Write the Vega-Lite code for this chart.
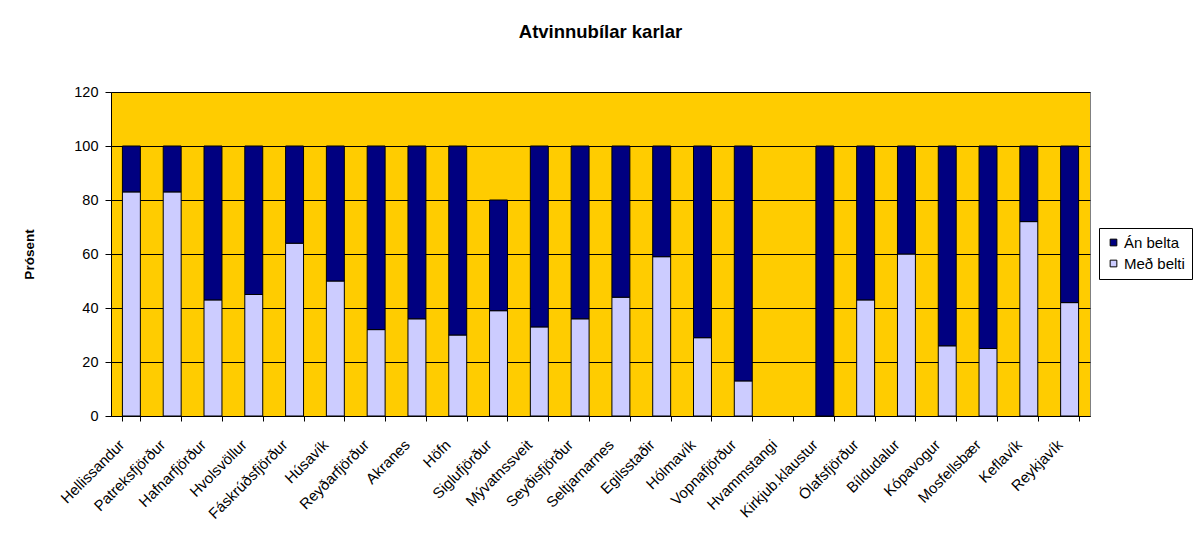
{
  "$schema": "https://vega.github.io/schema/vega-lite/v6.json",
  "width": 979,
  "height": 324,
  "autosize": {"type": "none"},
  "padding": {"left": 111, "top": 92, "right": 103, "bottom": 121},
  "background": "white",
  "title": {"text": "Atvinnubílar karlar", "anchor": "middle", "frame": "group", "offset": 28, "baseline": "alphabetic", "font": "Liberation Sans", "fontSize": 18.5, "fontWeight": "bold", "color": "black"},
  "config": {
    "font": "Liberation Sans",
    "view": {"fill": "#FFCC00", "stroke": "#808080", "strokeWidth": 1},
    "axis": {"labelFont": "Liberation Sans", "labelColor": "black", "domainColor": "black", "tickColor": "black", "titleFont": "Liberation Sans", "titleColor": "black"}
  },
  "data": {"values": [
    {"town": "Hellissandur", "type": "Með belti", "pct": 83}, {"town": "Hellissandur", "type": "Án belta", "pct": 17},
    {"town": "Patreksfjörður", "type": "Með belti", "pct": 83}, {"town": "Patreksfjörður", "type": "Án belta", "pct": 17},
    {"town": "Hafnarfjörður", "type": "Með belti", "pct": 43}, {"town": "Hafnarfjörður", "type": "Án belta", "pct": 57},
    {"town": "Hvolsvöllur", "type": "Með belti", "pct": 45}, {"town": "Hvolsvöllur", "type": "Án belta", "pct": 55},
    {"town": "Fáskrúðsfjörður", "type": "Með belti", "pct": 64}, {"town": "Fáskrúðsfjörður", "type": "Án belta", "pct": 36},
    {"town": "Húsavík", "type": "Með belti", "pct": 50}, {"town": "Húsavík", "type": "Án belta", "pct": 50},
    {"town": "Reyðarfjörður", "type": "Með belti", "pct": 32}, {"town": "Reyðarfjörður", "type": "Án belta", "pct": 68},
    {"town": "Akranes", "type": "Með belti", "pct": 36}, {"town": "Akranes", "type": "Án belta", "pct": 64},
    {"town": "Höfn", "type": "Með belti", "pct": 30}, {"town": "Höfn", "type": "Án belta", "pct": 70},
    {"town": "Siglufjörður", "type": "Með belti", "pct": 39}, {"town": "Siglufjörður", "type": "Án belta", "pct": 41},
    {"town": "Mývatnssveit", "type": "Með belti", "pct": 33}, {"town": "Mývatnssveit", "type": "Án belta", "pct": 67},
    {"town": "Seyðisfjörður", "type": "Með belti", "pct": 36}, {"town": "Seyðisfjörður", "type": "Án belta", "pct": 64},
    {"town": "Seltjarnarnes", "type": "Með belti", "pct": 44}, {"town": "Seltjarnarnes", "type": "Án belta", "pct": 56},
    {"town": "Egilsstaðir", "type": "Með belti", "pct": 59}, {"town": "Egilsstaðir", "type": "Án belta", "pct": 41},
    {"town": "Hólmavík", "type": "Með belti", "pct": 29}, {"town": "Hólmavík", "type": "Án belta", "pct": 71},
    {"town": "Vopnafjörður", "type": "Með belti", "pct": 13}, {"town": "Vopnafjörður", "type": "Án belta", "pct": 87},
    {"town": "Kirkjub.klaustur", "type": "Með belti", "pct": 0}, {"town": "Kirkjub.klaustur", "type": "Án belta", "pct": 100},
    {"town": "Ólafsfjörður", "type": "Með belti", "pct": 43}, {"town": "Ólafsfjörður", "type": "Án belta", "pct": 57},
    {"town": "Bíldudalur", "type": "Með belti", "pct": 60}, {"town": "Bíldudalur", "type": "Án belta", "pct": 40},
    {"town": "Kópavogur", "type": "Með belti", "pct": 26}, {"town": "Kópavogur", "type": "Án belta", "pct": 74},
    {"town": "Mosfellsbær", "type": "Með belti", "pct": 25}, {"town": "Mosfellsbær", "type": "Án belta", "pct": 75},
    {"town": "Keflavík", "type": "Með belti", "pct": 72}, {"town": "Keflavík", "type": "Án belta", "pct": 28},
    {"town": "Reykjavík", "type": "Með belti", "pct": 42}, {"town": "Reykjavík", "type": "Án belta", "pct": 58}
  ]},
  "mark": {"type": "bar", "stroke": "black", "strokeWidth": 1},
  "encoding": {
    "x": {
      "field": "town", "type": "nominal",
      "scale": {"domain": ["Hellissandur", "Patreksfjörður", "Hafnarfjörður", "Hvolsvöllur", "Fáskrúðsfjörður", "Húsavík", "Reyðarfjörður", "Akranes", "Höfn", "Siglufjörður", "Mývatnssveit", "Seyðisfjörður", "Seltjarnarnes", "Egilsstaðir", "Hólmavík", "Vopnafjörður", "Hvammstangi", "Kirkjub.klaustur", "Ólafsfjörður", "Bíldudalur", "Kópavogur", "Mosfellsbær", "Keflavík", "Reykjavík"], "paddingInner": 0.56, "paddingOuter": 0.28},
      "axis": {"title": null, "labelAngle": -45, "labelAlign": "right", "labelBaseline": "top", "labelOffset": -15, "labelPadding": 16, "labelFontSize": 15, "tickBand": "extent", "tickSize": 5, "grid": false}
    },
    "y": {
      "field": "pct", "type": "quantitative", "stack": "zero",
      "scale": {"domain": [0, 120], "nice": false},
      "axis": {"title": "Prósent", "titleFontSize": 13.5, "titleFontWeight": "bold", "titlePadding": 37, "labelFontSize": 14.5, "values": [0, 20, 40, 60, 80, 100, 120], "tickSize": 6, "labelPadding": 7, "grid": true, "gridColor": "black", "gridWidth": 1, "gridOpacity": 1}
    },
    "color": {
      "field": "type", "type": "nominal",
      "scale": {"domain": ["Án belta", "Með belti"], "range": ["#000080", "#CCCCFF"]},
      "legend": {"title": null, "orient": "none", "legendX": 988, "legendY": 136, "fillColor": "white", "strokeColor": "black", "padding": 7, "symbolType": "square", "symbolSize": 45, "symbolStrokeColor": "black", "symbolStrokeWidth": 1, "labelFontSize": 15, "labelFont": "Liberation Sans", "labelColor": "black", "rowPadding": 5, "labelOffset": 3}
    },
    "order": {"field": "type", "sort": "ascending"}
  }
}
